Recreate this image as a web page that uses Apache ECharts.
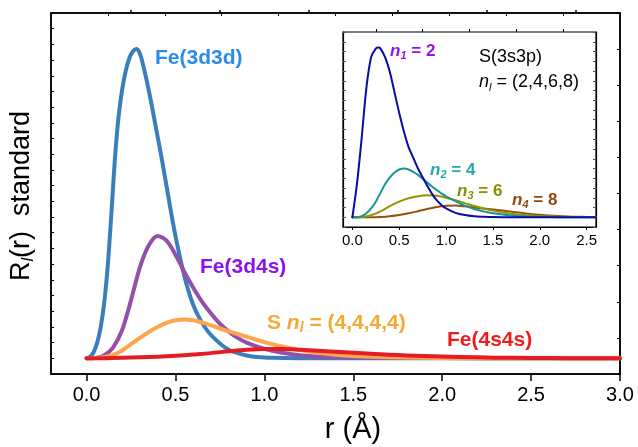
<!DOCTYPE html>
<html>
<head>
<meta charset="utf-8">
<script src="https://cdn.jsdelivr.net/npm/echarts@6/dist/echarts.min.js"></script>
<style>
  html, body { margin: 0; padding: 0; background: #fff; }
  #chart { width: 638px; height: 447px; }
</style>
</head>
<body>
<div id="chart"></div>
<script>
// main plot: radial functions
const r3d3d = [0, 0.02, 0.04, 0.06, 0.08, 0.10, 0.12, 0.14, 0.16, 0.18, 0.20, 0.22, 0.24, 0.26, 0.28, 0.30, 0.32, 0.34, 0.36, 0.38, 0.40, 0.42, 0.44, 0.46, 0.48, 0.50, 0.53, 0.56, 0.60, 0.64, 0.68, 0.72, 0.76, 0.80, 0.85, 0.90, 0.96, 1.05, 1.2, 1.5, 2.0, 3.0]
const v3d3d = [0, 0.1, 0.4, 1.0, 2.0, 3.6, 6.0, 9.3, 12.8, 15.4, 17.1, 18.3, 19.1, 19.55, 19.7, 19.4, 18.6, 17.6, 16.5, 15.3, 14.1, 12.9, 11.6, 10.3, 9.0, 7.8, 6.2, 4.8, 3.4, 2.45, 1.75, 1.25, 0.85, 0.55, 0.33, 0.18, 0.08, 0.03, 0.01, 0, 0, 0]

const r3d4s = [0, 0.05, 0.1, 0.15, 0.2, 0.25, 0.3, 0.35, 0.4, 0.45, 0.5, 0.55, 0.6, 0.65, 0.7, 0.75, 0.8, 0.85, 0.9, 1.0, 1.1, 1.2, 1.3, 1.5, 1.8, 2.2, 3.0]
const v3d4s = [0, 0.02, 0.2, 0.7, 1.8, 3.7, 5.8, 7.2, 7.8, 7.5, 6.6, 5.5, 4.5, 3.6, 2.85, 2.2, 1.7, 1.3, 1.0, 0.6, 0.35, 0.2, 0.12, 0.05, 0.02, 0.01, 0]

const rS = [0, 0.05, 0.1, 0.15, 0.2, 0.25, 0.3, 0.35, 0.4, 0.45, 0.5, 0.55, 0.6, 0.65, 0.7, 0.75, 0.8, 0.85, 0.9, 0.95, 1.0, 1.1, 1.2, 1.3, 1.4, 1.5, 1.7, 2.0, 2.5, 3.0]
const vS = [0, 0.02, 0.08, 0.22, 0.5, 0.9, 1.3, 1.68, 2.0, 2.25, 2.42, 2.48, 2.42, 2.28, 2.1, 1.9, 1.72, 1.55, 1.38, 1.2, 1.03, 0.75, 0.52, 0.35, 0.23, 0.15, 0.07, 0.02, 0, 0]

const r4s4s = [0, 0.1, 0.2, 0.3, 0.4, 0.5, 0.6, 0.7, 0.8, 0.9, 1.0, 1.1, 1.2, 1.3, 1.4, 1.5, 1.6, 1.7, 1.8, 1.9, 2.0, 2.2, 2.4, 2.6, 2.8, 3.0]
const v4s4s = [0, 0.01, 0.03, 0.06, 0.1, 0.16, 0.24, 0.33, 0.45, 0.55, 0.6, 0.6, 0.55, 0.48, 0.41, 0.35, 0.29, 0.23, 0.18, 0.14, 0.11, 0.06, 0.03, 0.015, 0.005, 0]

// inset: S(3s3p), n_l = 2,4,6,8
const rN1 = [0, 0.05, 0.1, 0.15, 0.2, 0.25, 0.28, 0.3, 0.35, 0.4, 0.45, 0.5, 0.55, 0.6, 0.65, 0.7, 0.75, 0.8, 0.85, 0.9, 0.95, 1.0, 1.1, 1.2, 1.3, 1.4, 1.5, 1.7, 2.0, 2.6]
const vN1 = [0, 3.5, 8.2, 13.3, 16.4, 17.3, 17.4, 17.3, 16.4, 14.9, 12.8, 10.7, 8.8, 7.2, 6.1, 5.0, 4.1, 3.2, 2.4, 1.75, 1.25, 0.9, 0.45, 0.22, 0.1, 0.05, 0.02, 0, 0, 0]

const rN2 = [0, 0.05, 0.1, 0.15, 0.2, 0.25, 0.3, 0.35, 0.4, 0.45, 0.5, 0.55, 0.6, 0.65, 0.7, 0.75, 0.8, 0.85, 0.9, 0.95, 1.0, 1.1, 1.2, 1.3, 1.4, 1.5, 1.6, 1.7, 1.8, 2.0, 2.2, 2.6]
const vN2 = [0, 0, 0.1, 0.4, 0.9, 1.6, 2.5, 3.4, 4.1, 4.6, 4.9, 5.0, 4.9, 4.65, 4.35, 3.95, 3.55, 3.15, 2.8, 2.45, 2.15, 1.65, 1.2, 0.85, 0.6, 0.4, 0.27, 0.18, 0.11, 0.04, 0.01, 0]

const rN3 = [0, 0.1, 0.2, 0.3, 0.4, 0.5, 0.6, 0.7, 0.8, 0.9, 1.0, 1.1, 1.2, 1.3, 1.4, 1.5, 1.6, 1.7, 1.8, 2.0, 2.2, 2.4, 2.6]
const vN3 = [0, 0.03, 0.2, 0.6, 1.15, 1.6, 1.95, 2.15, 2.25, 2.2, 2.0, 1.75, 1.45, 1.15, 0.9, 0.68, 0.5, 0.36, 0.25, 0.12, 0.05, 0.02, 0.01]

const rN4 = [0, 0.2, 0.3, 0.4, 0.5, 0.6, 0.7, 0.8, 0.9, 1.0, 1.1, 1.2, 1.3, 1.4, 1.5, 1.6, 1.7, 1.8, 1.9, 2.0, 2.1, 2.2, 2.3, 2.4, 2.5, 2.6]
const vN4 = [0, 0, 0.03, 0.1, 0.22, 0.4, 0.62, 0.85, 1.05, 1.17, 1.2, 1.12, 1.0, 0.9, 0.8, 0.7, 0.57, 0.45, 0.34, 0.25, 0.18, 0.12, 0.08, 0.05, 0.03, 0.02]

// tick positions
const mainTicks = [0, 0.5, 1.0, 1.5, 2.0, 2.5, 3.0]
const mainMinor = [0.25, 0.75, 1.25, 1.75, 2.25, 2.75]
const insetTicks = [0, 0.5, 1.0, 1.5, 2.0, 2.5]
const insetMinor = [0.25, 0.75, 1.25, 1.75, 2.25]

const FONT = 'Liberation Sans, Arial, sans-serif'
const pairs = (xs, ys) => xs.map((x, i) => [x, ys[i]])

var mychart = echarts.init(document.getElementById('chart'))

const line = (name, xs, ys, color, width, xi, yi) => ({
    name: name,
    type: 'line',
    xAxisIndex: xi,
    yAxisIndex: yi,
    data: pairs(xs, ys),
    showSymbol: false,
    smooth: 0.3,
    lineStyle: { color: color, width: width, join: 'round', cap: 'round' },
    animation: false
})

// axis line helpers (never on zero)
const black = (w) => ({ onZero: false, lineStyle: { color: '#000', width: w } })
const noLabel = { show: false }
const noSplit = { show: false }

// rich text bits for the labels
const subStyle = (size, color) => ({ fontSize: size, fontWeight: 'bold', fontStyle: 'italic', fontFamily: FONT, fill: color, verticalAlign: 'bottom', lineHeight: size })
const mainStyle = (size, color, italic) => ({ fontSize: size, fontWeight: 'bold', fontStyle: italic ? 'italic' : 'normal', fontFamily: FONT, fill: color, lineHeight: size + 4, verticalAlign: 'middle' })

const label = (x, y, text, rich) => ({
    type: 'text', x: x, y: y, z: 100,
    style: { text: text, rich: rich, align: 'left', verticalAlign: 'middle' }
})

const nLabel = (x, y, k, val, color) => label(x, y, '{n|n}{s|' + k + '}{t| = ' + val + '}', {
    n: mainStyle(17, color, true), s: subStyle(11, color), t: mainStyle(17, color, false)
})

var option = {
    animation: false,
    grid: [
        { left: 51, top: 13, right: 18, bottom: 73, show: true, borderColor: '#000', borderWidth: 1.5 },
        { left: 343, top: 32, right: 42, bottom: 220, show: true, borderColor: '#000', borderWidth: 1.2, backgroundColor: '#fff' }
    ],
    xAxis: [
        {
            type: 'value', gridIndex: 0, min: -0.2, max: 3.0, axisLine: black(1.5),
            axisTick: { customValues: mainTicks, length: 7, lineStyle: { color: '#000', width: 1.5 } },
            axisLabel: { customValues: mainTicks, formatter: v => v.toFixed(1), fontSize: 20, color: '#000', fontFamily: FONT, margin: 11 },
            splitLine: noSplit
        },
        {
            type: 'value', gridIndex: 0, min: -0.2, max: 3.0, axisLine: { show: false, onZero: false },
            axisTick: { customValues: mainMinor, length: 3, lineStyle: { color: '#000', width: 1.5 } },
            axisLabel: noLabel, splitLine: noSplit
        },
        {
            type: 'value', gridIndex: 0, position: 'top', min: 0, max: 10, interval: 1, axisLine: black(1.5),
            axisTick: { inside: true, length: 3, lineStyle: { color: '#000', width: 1 } },
            axisLabel: noLabel, splitLine: noSplit
        },
        {
            type: 'value', gridIndex: 1, min: -0.1, max: 2.6, axisLine: black(1.2),
            axisTick: { customValues: insetTicks, length: 3, lineStyle: { color: '#000', width: 1 } },
            axisLabel: { customValues: insetTicks, formatter: v => v.toFixed(1), fontSize: 15, color: '#000', fontFamily: FONT, margin: 6 },
            splitLine: noSplit
        },
        {
            type: 'value', gridIndex: 1, min: -0.1, max: 2.6, axisLine: { show: false, onZero: false },
            axisTick: { customValues: insetMinor, length: 3, lineStyle: { color: '#000', width: 1 } },
            axisLabel: noLabel, splitLine: noSplit
        }
    ],
    yAxis: [
        {
            type: 'value', gridIndex: 0, min: -1, max: 22, interval: 1, axisLine: black(1.5),
            axisTick: { inside: true, length: 3, lineStyle: { color: '#000', width: 1 } },
            axisLabel: noLabel, splitLine: noSplit
        },
        {
            type: 'value', gridIndex: 0, position: 'right', min: 0, max: 10, interval: 1, axisLine: black(1.5),
            axisTick: { inside: true, length: 3, lineStyle: { color: '#000', width: 1 } },
            axisLabel: noLabel, splitLine: noSplit
        },
        {
            type: 'value', gridIndex: 1, min: -1, max: 19, interval: 1, axisLine: black(1.2),
            axisTick: { inside: true, length: 3, lineStyle: { color: '#555', width: 1 } },
            axisLabel: noLabel, splitLine: noSplit
        },
        {
            type: 'value', gridIndex: 1, position: 'right', min: -1, max: 19, interval: 1, axisLine: black(1.2),
            axisTick: { inside: true, length: 3, lineStyle: { color: '#555', width: 1 } },
            axisLabel: noLabel, splitLine: noSplit
        }
    ],
    series: [
        line('Fe(3d3d)', r3d3d, v3d3d, '#3a7fbb', 4, 0, 0),
        line('Fe(3d4s)', r3d4s, v3d4s, '#9450a8', 4, 0, 0),
        line('S', rS, vS, '#ffa64d', 4, 0, 0),
        line('Fe(4s4s)', r4s4s, v4s4s, '#e41c24', 4, 0, 0),
        line('n4 = 8', rN4, vN4, '#96500f', 2, 3, 2),
        line('n3 = 6', rN3, vN3, '#959500', 2, 3, 2),
        line('n2 = 4', rN2, vN2, '#1a9494', 2, 3, 2),
        line('n1 = 2', rN1, vN1, '#0b0ba8', 2, 3, 2)
    ],
    graphic: [
        // axis names
        {
            type: 'text', x: 22, y: 196, rotation: Math.PI / 2, z: 100,
            style: {
                text: '{a|R}{b|l}{a|(r)  standard}',
                rich: {
                    a: { fontSize: 27, fontFamily: FONT, fill: '#000', lineHeight: 30, verticalAlign: 'middle' },
                    b: { fontSize: 16, fontStyle: 'italic', fontFamily: FONT, fill: '#000', lineHeight: 16, verticalAlign: 'bottom' }
                },
                align: 'center', verticalAlign: 'middle'
            }
        },
        {
            type: 'text', x: 353, y: 430, z: 100,
            style: { text: 'r (Å)', font: '29px ' + FONT, fill: '#000', align: 'center', verticalAlign: 'middle' }
        },
        // curve labels, main plot
        label(155, 58, '{a|Fe(3d3d)}', { a: mainStyle(21, '#2b8be8', false) }),
        label(200, 267, '{a|Fe(3d4s)}', { a: mainStyle(21, '#8a12f0', false) }),
        label(267, 323, '{a|S }{n|n}{s|l}{a| = (4,4,4,4)}', {
            a: mainStyle(21, '#f5a833', false), n: mainStyle(21, '#f5a833', true), s: subStyle(14, '#f5a833')
        }),
        label(447, 340, '{a|Fe(4s4s)}', { a: mainStyle(21, '#ee1c1c', false) }),
        // inset labels
        nLabel(390, 51, '1', '2', '#8e14f0'),
        nLabel(430, 170, '2', '4', '#26a8a8'),
        nLabel(457, 191, '3', '6', '#8c8c00'),
        nLabel(512, 200, '4', '8', '#8f4a10'),
        {
            type: 'text', x: 479, y: 57, z: 100,
            style: { text: 'S(3s3p)', font: '18px ' + FONT, fill: '#000', align: 'left', verticalAlign: 'middle' }
        },
        label(479, 82, '{n|n}{s|l}{a| = (2,4,6,8)}', {
            n: { fontSize: 18, fontStyle: 'italic', fontFamily: FONT, fill: '#000', lineHeight: 22, verticalAlign: 'middle' },
            s: { fontSize: 11, fontStyle: 'italic', fontFamily: FONT, fill: '#000', lineHeight: 11, verticalAlign: 'bottom' },
            a: { fontSize: 18, fontFamily: FONT, fill: '#000', lineHeight: 22, verticalAlign: 'middle' }
        })
    ]
}
option && mychart.setOption(option)
</script>
</body>
</html>
